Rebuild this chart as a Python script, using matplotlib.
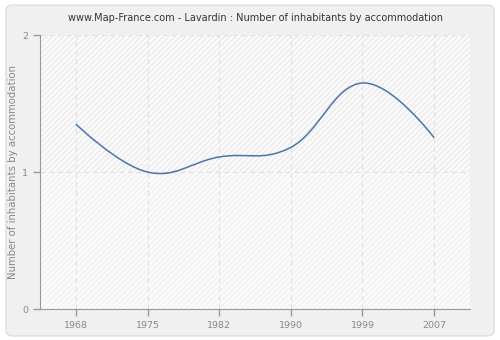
import matplotlib

matplotlib.use('Agg')
import matplotlib.pyplot as plt
from matplotlib.patches import FancyBboxPatch, Rectangle, PathPatch
from matplotlib.path import Path

years = ['1968', '1975', '1982', '1990', '1999', '2007']
values = [1.35, 1.0, 1.11, 1.18, 1.65, 1.25]
y_ticks = [0, 1, 2]

title = 'www.Map-France.com - Lavardin : Number of inhabitants by accommodation'
ylabel = 'Number of inhabitants by accommodation'


def spline_path(xs, ys, smoothing=1.5):
  """Build a smooth bezier path through the points."""
  denom = smoothing + 1
  n = len(xs)
  ctrl = []
  for i in range(n):
    if i == 0 or i == n - 1:
      ctrl.append(((xs[i], ys[i]), (xs[i], ys[i])))
      continue
    lx = (smoothing * xs[i] + xs[i - 1]) / denom
    ly = (smoothing * ys[i] + ys[i - 1]) / denom
    rx = (smoothing * xs[i] + xs[i + 1]) / denom
    ry = (smoothing * ys[i] + ys[i + 1]) / denom
    corr = ((ry - ly) * (rx - xs[i])) / (rx - lx) + ys[i] - ry
    ctrl.append(((lx, ly + corr), (rx, ry + corr)))
  verts = [(xs[0], ys[0])]
  codes = [Path.MOVETO]
  for i in range(1, n):
    verts += [ctrl[i - 1][1], ctrl[i][0], (xs[i], ys[i])]
    codes += [Path.CURVE4] * 3
  return Path(verts, codes)


fig = plt.figure(figsize=(5, 3.4), dpi=100)
fig.patch.set_facecolor('white')
bg = FancyBboxPatch((0.012, 0.012), 0.976, 0.973,
                    boxstyle='round,pad=0,rounding_size=0.015',
                    transform=fig.transFigure, facecolor='#f0f0f0',
                    edgecolor='#dddddd', linewidth=1, zorder=-10)
fig.add_artist(bg)

ax = fig.add_axes([0.08, 0.091, 0.86, 0.806])
ax.set_zorder(1)
ax.set_facecolor('#fbfbfb')
x = list(range(len(years)))
ax.set_xlim(-0.5, len(years) - 0.5)
ax.set_ylim(0, 2)

# hatched background, a bit stronger above 1
ax.add_patch(Rectangle((-0.5, 1), len(years), 1, facecolor='none', hatch='//////',
                       edgecolor='#ebebeb', linewidth=0, zorder=0))
ax.add_patch(Rectangle((-0.5, 0), len(years), 1, facecolor='none', hatch='//////',
                       edgecolor='#f2f2f2', linewidth=0, zorder=0))

ax.set_xticks(x)
ax.set_xticklabels(years)
ax.set_yticks(y_ticks)
ax.grid(True, color='#e2e2e2', linestyle=(0, (4, 3)), linewidth=0.9)
ax.set_axisbelow(True)

ax.add_patch(PathPatch(spline_path(x, values), facecolor='none', edgecolor='#4a75ab',
                       linewidth=1.1, zorder=3))

for s in ['top', 'right']:
  ax.spines[s].set_visible(False)
for s in ['left', 'bottom']:
  ax.spines[s].set_color('#999999')
ax.tick_params(colors='#999999', labelcolor='#888888', labelsize=6.8, length=5, width=1)

ax.set_title(title, fontsize=7, color='#333333', pad=10)
ax.set_ylabel(ylabel, fontsize=7.3, color='#888888', labelpad=3)

fig.savefig('out.png', dpi=100)
